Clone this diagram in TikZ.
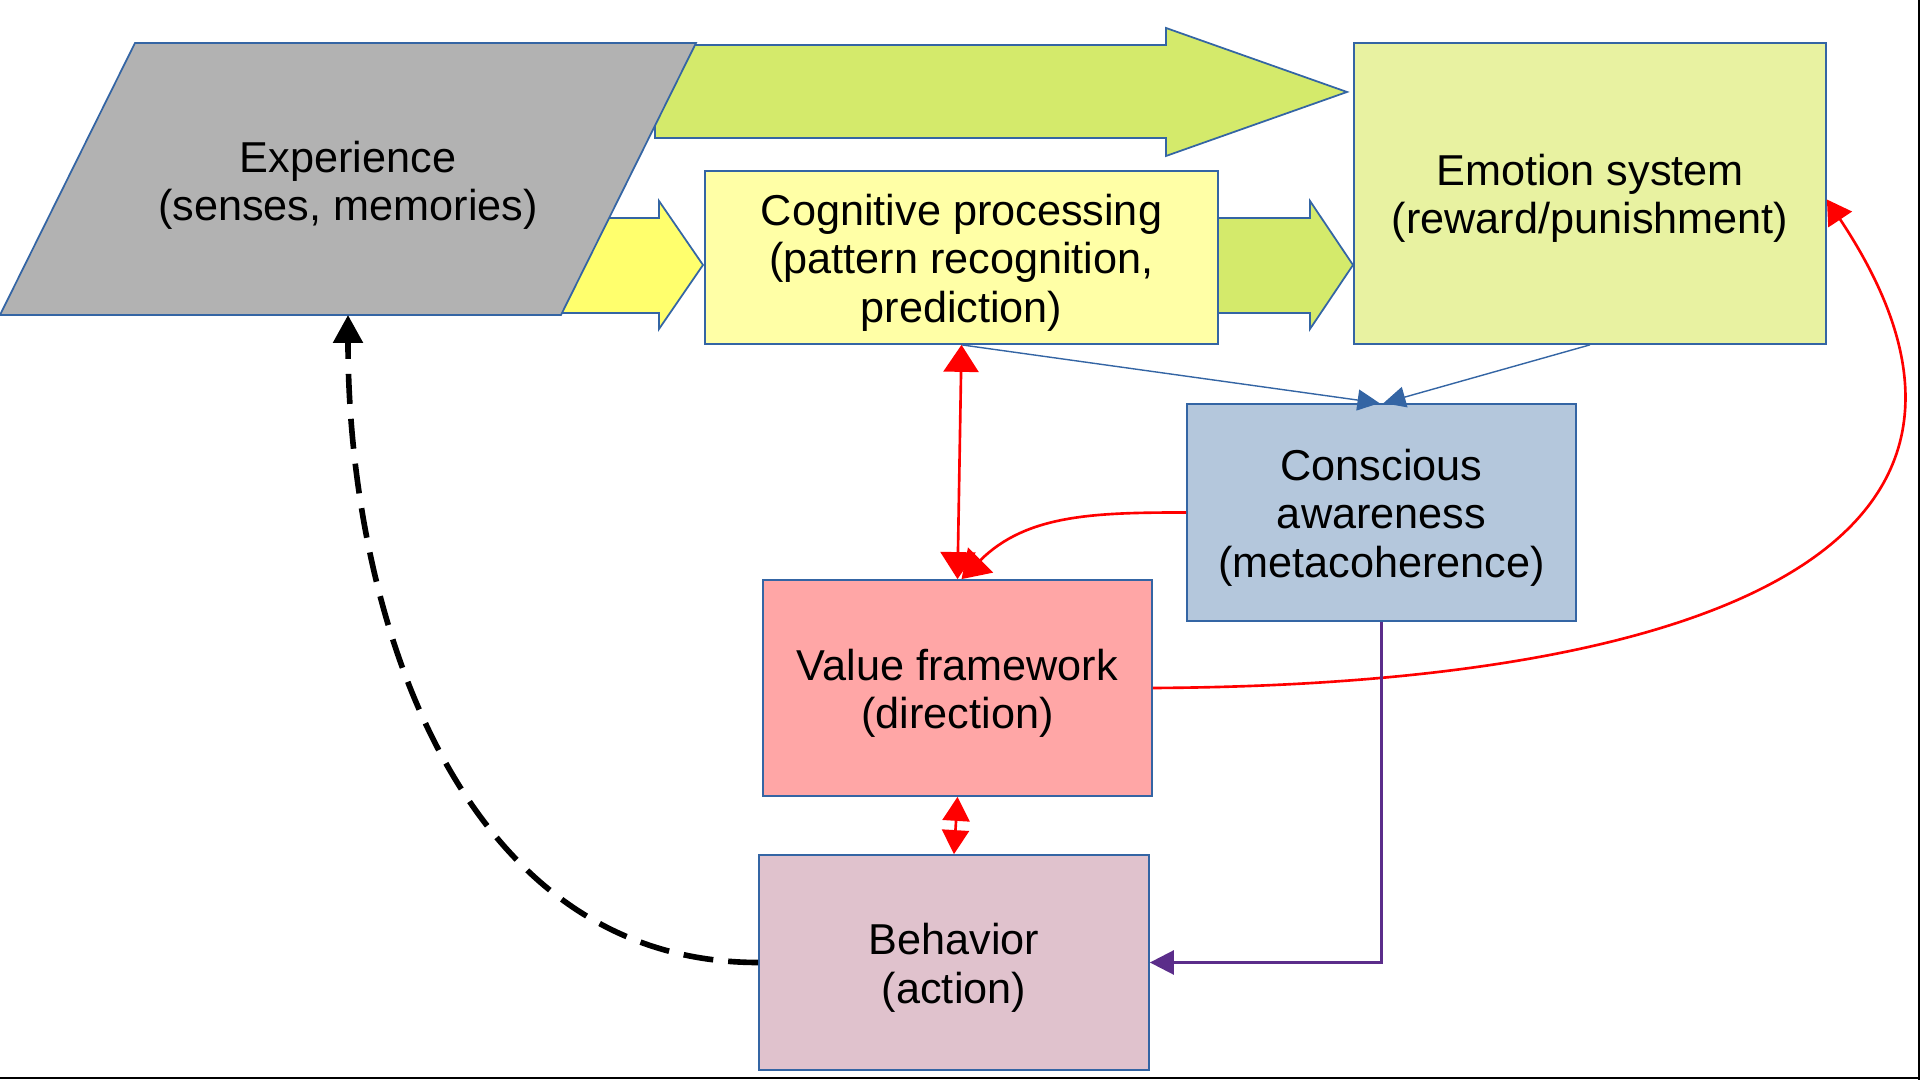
\documentclass[tikz,border=0pt]{standalone}
\usepackage{fontspec}
\setmainfont{Liberation Sans}
\usetikzlibrary{positioning,arrows.meta}

\definecolor{boxline}{HTML}{3465A4}
\definecolor{expgray}{HTML}{B2B2B2}
\definecolor{greenarrow}{HTML}{D4EA6B}
\definecolor{yellowarrow}{HTML}{FFFF6D}
\definecolor{cogyellow}{HTML}{FFFFA6}
\definecolor{emogreen}{HTML}{E8F2A1}
\definecolor{conblue}{HTML}{B4C7DC}
\definecolor{valred}{HTML}{FFA6A6}
\definecolor{behpink}{HTML}{E0C2CD}
\definecolor{actpurple}{HTML}{5B2D8A}

\newcommand{\toppad}{\rule{0pt}{0.96em}}

\tikzset{
  box/.style={draw=boxline, line width=0.5pt, align=center, inner sep=0pt,
    font=\fontsize{12.3}{13.8}\selectfont},
  blockarrow/.style={draw=boxline, line width=0.5pt},
  redline/.style={draw=red, line width=0.75pt},
  redtip/.tip={Triangle[length=2.7mm,width=3.5mm]},
}

\begin{document}
\begin{tikzpicture}
\useasboundingbox (0,0) rectangle (19.2,10.8);
\draw[line width=0.2mm](0,0.02) -- (19.19,0.02);
\draw[line width=0.2mm](19.19,0) -- (19.19,10.8);

\draw[blockarrow, fill=greenarrow](6.55,9.42) -- (11.66,9.42) -- (11.66,9.24) -- (13.47,9.88)
  -- (11.66,10.52) -- (11.66,10.35) -- (6.55,10.35) -- cycle;
\draw[blockarrow, fill=yellowarrow](5.4,7.67) -- (6.59,7.67) -- (6.59,7.51) -- (7.03,8.15)
  -- (6.59,8.79) -- (6.59,8.62) -- (5.4,8.62) -- cycle;
\draw[blockarrow, fill=greenarrow](12.1,7.67) -- (13.10,7.67) -- (13.10,7.51) -- (13.53,8.15)
  -- (13.10,8.79) -- (13.10,8.62) -- (12.1,8.62) -- cycle;

\draw[blockarrow, fill=expgray](0,7.65) -- (5.61,7.65) -- (6.96,10.37) -- (1.35,10.37) -- cycle;
\node[box, draw=none] (experience) at (3.48,9.0) {\toppad Experience\\(senses, memories)};
\coordinate (expbase) at (3.48,7.65);

\node[box, fill=cogyellow, minimum width=5.13cm, minimum height=1.73cm] (cognitive) at (9.615,8.225)
  {\toppad Cognitive processing\\(pattern recognition,\\prediction)};
\node[box, fill=emogreen, minimum width=4.72cm, minimum height=3.01cm] (emotion) at (15.9,8.865)
  {\toppad Emotion system\\(reward/punishment)};
\node[box, fill=conblue, minimum width=3.89cm, minimum height=2.17cm] (conscious) at (13.815,5.675)
  {\toppad Conscious\\awareness\\(metacoherence)};
\node[box, fill=valred, minimum width=3.89cm, minimum height=2.16cm] (value) at (9.575,3.92)
  {\toppad Value framework\\(direction)};
\node[box, fill=behpink, minimum width=3.9cm, minimum height=2.15cm] (behavior) at (9.54,1.175)
  {\toppad Behavior\\(action)};

\draw[boxline, line width=0.4pt, -{Triangle[length=2.2mm,width=2.1mm]}](cognitive.south) -- ([xshift=-0.02cm]conscious.north);
\draw[boxline, line width=0.4pt, -{Triangle[length=2.2mm,width=2.1mm]}](emotion.south) -- ([xshift=0.02cm]conscious.north);

\draw[redline, redtip-redtip](cognitive.south) -- (value.north);
\draw[redline, -redtip](conscious.west) to[out=180, in=45] ([xshift=0.04cm]value.north);
\draw[redline, -{Triangle[length=2.4mm,width=2.8mm]}](value.east) .. controls (17.0,3.95) and (20.6,5.3) .. ([yshift=-0.06cm]emotion.east);
\draw[redline, {Triangle[length=2.4mm,width=2.7mm]}-{Triangle[length=2.4mm,width=2.7mm]}](value.south) -- (behavior.north);

\draw[actpurple, line width=0.75pt, -{Triangle[length=2.4mm,width=2.4mm]}](conscious.south) |- (behavior.east);

\draw[line width=1.6pt, dash pattern=on 3mm off 1.5mm, -{Triangle[length=2.8mm,width=2.9mm]}](behavior.west) to[out=180, in=-90] (expbase);
\end{tikzpicture}
\end{document}
